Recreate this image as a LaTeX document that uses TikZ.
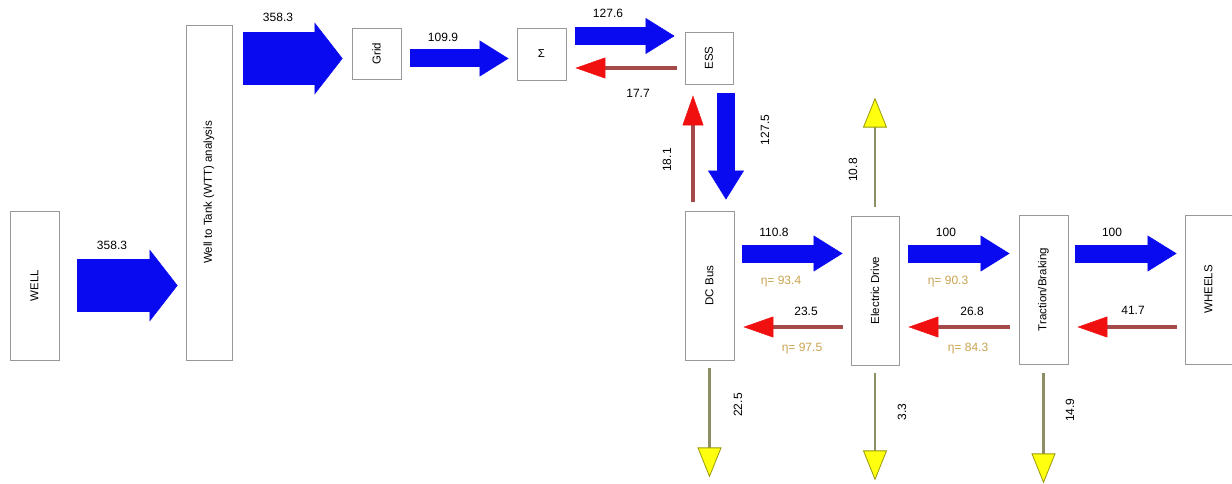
\documentclass[tikz,border=0pt]{standalone}
\usepackage{fontspec}
\setmainfont{Liberation Sans}
\usetikzlibrary{arrows.meta}
\definecolor{flowblue}{HTML}{0A0AF0}
\definecolor{backshaft}{HTML}{A54A4A}
\definecolor{backhead}{HTML}{F01010}
\definecolor{lossshaft}{HTML}{8E8E66}
\definecolor{losshead}{HTML}{FFFF10}
\definecolor{etacol}{HTML}{C9A24E}
\newcommand{\vlabel}[1]{\rotatebox{90}{#1}}

\begin{document}
\begin{tikzpicture}[x=1pt, y=-1pt,
  tallbox/.style={draw=black!40, line width=0.9pt, minimum width=48pt, minimum height=149pt, inner sep=0pt, font=\fontsize{11.5}{13}\selectfont},
  smallbox/.style={tallbox, minimum height=52pt},
  bigflow/.style={draw=flowblue, line width=53pt, -{Triangle[length=28pt, width=72pt, line width=0.5pt]}},
  fwdflow/.style={draw=flowblue, line width=18pt, -{Triangle[length=29pt, width=36pt, line width=0.5pt]}},
  backflow/.style={draw=backshaft, line width=4pt, -{Triangle[length=30pt, width=21pt, color=backhead, line width=0.5pt]}},
  lossflow/.style={draw=lossshaft, line width=2.5pt, -{Triangle[length=30pt, width=24pt, color=losshead!60!black, fill=losshead, line width=0.8pt]}},
  val/.style={font=\fontsize{12}{14}\selectfont, inner sep=1pt},
  eta/.style={val, text=etacol}
]
\useasboundingbox (0,0) rectangle (1232,484);

% boxes
\node[tallbox, minimum width=49pt] (well) at (34.5,285.5) {\vlabel{WELL}};
\node[tallbox, minimum width=46pt, minimum height=335pt] (wtt) at (209,192.5) {\vlabel{Well to Tank (WTT) analysis}};
\node[smallbox, minimum width=49pt, minimum height=51pt] (grid) at (376.5,53.5) {\vlabel{Grid}};
\node[smallbox, minimum width=49pt] (sum) at (541.5,54) {Σ};
\node[smallbox] (ess) at (709,58) {\vlabel{ESS}};
\node[tallbox, minimum width=49pt] (dcbus) at (709.5,285.5) {\vlabel{DC Bus}};
\node[tallbox] (edrive) at (875,290.5) {\vlabel{Electric Drive}};
\node[tallbox, minimum width=49pt] (trac) at (1043.5,289.5) {\vlabel{Traction/Braking}};
\node[tallbox, minimum width=47pt] (wheels) at (1208.5,289.5) {\vlabel{WHEELS}};

% arrow levels and free ends
\coordinate (gin) at ([yshift=-5pt]grid.west);
\coordinate (essin) at ([yshift=22pt]ess.west);
\coordinate (essout) at ([yshift=-10pt]ess.west);
\coordinate (fwdrow) at (0,253.5);
\coordinate (backrow) at (0,327);
\coordinate (edup) at ([yshift=118pt]edrive.north);
\coordinate (dcdown) at ([yshift=-117pt]dcbus.south);
\coordinate (eddown) at ([yshift=-115pt]edrive.south);
\coordinate (trdown) at ([yshift=-119pt]trac.south);

% upstream chain
\draw[bigflow, shorten <=18pt, shorten >=8pt] (well.east) -- (wtt.west |- well.east);
\draw[bigflow, shorten <=11pt, shorten >=9pt] (wtt.east |- gin) -- (gin);
\draw[fwdflow, shorten <=9pt, shorten >=8pt] (grid.east |- gin) -- (sum.west |- gin);
\draw[fwdflow, shorten <=9pt, shorten >=10pt] (sum.east |- essin) -- (essin);
\draw[backflow, shorten <=8pt, shorten >=9pt] (essout) -- (sum.east |- essout);
\draw[fwdflow, shorten <=9pt, shorten >=11pt] ([xshift=17pt]ess.south) -- ([xshift=17pt]ess.south |- dcbus.north);
\draw[backflow, shorten <=9pt, shorten >=11pt] ([xshift=-16pt]ess.south |- dcbus.north) -- ([xshift=-16pt]ess.south);

% drive train
\draw[fwdflow, shorten <=8pt, shorten >=8pt] (dcbus.east |- fwdrow) -- (edrive.west |- fwdrow);
\draw[backflow, shorten <=8pt, shorten >=9pt] (edrive.west |- backrow) -- (dcbus.east |- backrow);
\draw[fwdflow, shorten <=9pt, shorten >=9pt] (edrive.east |- fwdrow) -- (trac.west |- fwdrow);
\draw[backflow, shorten <=9pt, shorten >=9pt] (trac.west |- backrow) -- (edrive.east |- backrow);
\draw[fwdflow, shorten <=7pt, shorten >=8pt] (trac.east |- fwdrow) -- (wheels.west |- fwdrow);
\draw[backflow, shorten <=8pt, shorten >=9pt] (wheels.west |- backrow) -- (trac.east |- backrow);

% losses
\draw[lossflow, shorten <=9pt] (edrive.north) -- (edup);
\draw[lossflow, shorten <=8pt] (dcbus.south) -- (dcdown);
\draw[lossflow, shorten <=8pt] (edrive.south) -- (eddown);
\draw[lossflow, shorten <=9pt] (trac.south) -- (trdown);

% values
\node[val] (v1) at (112,245) {358.3};
\node[val] (v2) at (278,17) {358.3};
\node[val] (v3) at (443,37) {109.9};
\node[val] (v4) at (608,13) {127.6};
\node[val] (v5) at (638,93) {17.7};
\node[val, rotate=90] (v6) at (765,130) {127.5};
\node[val, rotate=90] (v7) at (667,160) {18.1};
\node[val, rotate=90] (v8) at (853,170) {10.8};
\node[val] (v9) at (774,232) {110.8};
\node[eta] (e1) at (781,282) {η= 93.4};
\node[val] (v10) at (806,311) {23.5};
\node[eta] (e2) at (802,349) {η= 97.5};
\node[val] (v11) at (946,232) {100};
\node[eta] (e3) at (948,282) {η= 90.3};
\node[val] (v12) at (972,311) {26.8};
\node[eta] (e4) at (968,349) {η= 84.3};
\node[val] (v13) at (1112,232) {100};
\node[val] (v14) at (1133,310) {41.7};
\node[val, rotate=90] (v15) at (738,405) {22.5};
\node[val, rotate=90] (v16) at (902,412) {3.3};
\node[val, rotate=90] (v17) at (1070,410) {14.9};
\end{tikzpicture}
\end{document}
